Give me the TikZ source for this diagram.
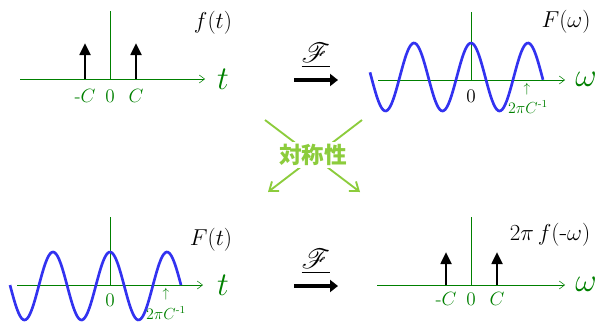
\documentclass[tikz,border=0pt]{standalone}
\usepackage{amsmath,amssymb}
\usepackage{mathrsfs}
\usepackage{fontspec}
\newfontfamily\cjk{Noto Sans CJK JP}
\usepackage{tikz}
\usetikzlibrary{arrows.meta,calc}
\definecolor{VerdeEje}{RGB}{0,128,0}
\definecolor{VerdeClaro}{RGB}{140,204,60}
\definecolor{AzulOnda}{RGB}{50,50,240}

\begin{document}
\begin{tikzpicture}[x=0.75pt,y=-0.75pt,
    eje/.style={VerdeEje,thin,-{Straight Barb[length=4pt,width=6pt]}},
    ejev/.style={VerdeEje,thin},
    impulso/.style={line width=2pt,-{Triangle[length=9pt,width=8pt]}},
    onda/.style={AzulOnda,line width=2pt,smooth,samples=120},
    marca/.style={VerdeEje,font=\fontsize{14}{14}\selectfont},
    marcan/.style={font=\fontsize{14}{14}\selectfont},
    var/.style={VerdeEje,font=\fontsize{24}{24}\selectfont},
    func/.style={font=\fontsize{19}{19}\selectfont},
    frac/.style={VerdeEje,font=\fontsize{12}{12}\selectfont},
    fourier/.style={line width=3.5pt,-{Triangle[length=6pt,width=9pt]}},
    simetria/.style={VerdeClaro,line width=1.4pt}]
  \useasboundingbox (0,0) rectangle (605,325);
  % f(t): dos impulsos
  \coordinate (A0) at (20,79);
  \coordinate (A1) at (205,79);
  \draw[eje] (A0)--(A1);
  \draw[ejev] (110,11)--(110,79);
  \draw[impulso] (85,79)--(85,43);
  \draw[impulso] (136,79)--(136,43);
  \node[marca] at (85,96) {$\textrm{-}C$};
  \node[marca] at (110,96) {$0$};
  \node[marca] at (136,96) {$C$};
  \node[var] at (223,79) {$t$};
  \node[func] at (213,23) {$f(t)$};
  % F(omega): coseno
  \coordinate (B0) at (378,80);
  \coordinate (B1) at (565,80);
  \draw[eje] (B0)--(B1);
  \draw[ejev] (471,12)--(471,80);
  \draw[onda] plot[domain=370:543] (\x,{77-34*cos((\x-471)/57*360)});
  \node[marcan] at (471,96) {$0$};
  \node[VerdeEje] at (527,89) {$\uparrow$};
  \node[frac] at (528,107) {$2\pi C^{\textrm{-}1}$};
  \node[var] at (586,79) {$\omega$};
  \node[func] at (566,22) {$F(\omega)$};
  % transformadas
  \node[func,font=\fontsize{21}{21}\selectfont] (T1) at (316,56) {\underline{$\mathscr{F}$}};
  \draw[fourier] (294,80)--(338,80);
  \node[func,font=\fontsize{21}{21}\selectfont] (T2) at (316,262) {\underline{$\mathscr{F}$}};
  \draw[fourier] (294,286)--(338,286);
  % simetria
  \coordinate (S1) at (265,120);
  \coordinate (S2) at (362,120);
  \coordinate (S3) at (268,192);
  \coordinate (S4) at (360,192);
  \draw[simetria,-{Straight Barb[length=6pt,width=9pt]}] (S1)--(S4);
  \draw[simetria,-{Straight Barb[length=6pt,width=9pt]}] (S2)--(S3);
  \node[fill=white,inner sep=2pt,text=VerdeClaro,font=\cjk\bfseries\fontsize{17}{17}\selectfont] (sim) at (313,155) {対称性};
  % F(t): coseno
  \coordinate (C0) at (17,285);
  \coordinate (C1) at (203,285);
  \draw[eje] (C0)--(C1);
  \draw[ejev] (110,217)--(110,285);
  \draw[onda] plot[domain=10:181] (\x,{286-34*cos((\x-110)/57*360)});
  \node[marca] at (110,300) {$0$};
  \node[VerdeEje] at (166,294) {$\uparrow$};
  \node[frac] at (166,313) {$2\pi C^{\textrm{-}1}$};
  \node[var] at (223,285) {$t$};
  \node[func] at (211,240) {$F(t)$};
  % 2 pi f(-omega): dos impulsos
  \coordinate (D0) at (377,285);
  \coordinate (D1) at (565,285);
  \draw[eje] (D0)--(D1);
  \draw[ejev] (471,217)--(471,285);
  \draw[impulso] (446,285)--(446,252);
  \draw[impulso] (497,285)--(497,252);
  \node[marca] at (446,299) {$\textrm{-}C$};
  \node[marca] at (471,299) {$0$};
  \node[marca] at (497,299) {$C$};
  \node[var] at (586,284) {$\omega$};
  \node[func] at (550,235) {$2\pi\, f(\textrm{-}\omega)$};
\end{tikzpicture}
\end{document}
